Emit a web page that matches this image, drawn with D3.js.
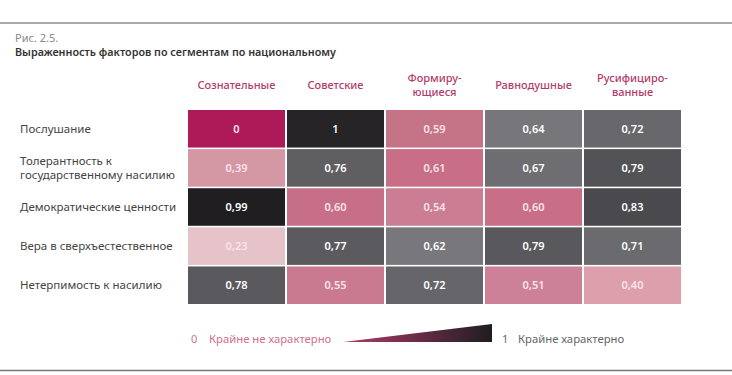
<!DOCTYPE html>
<html>
<head>
<meta charset="utf-8">
<script src="https://cdn.jsdelivr.net/npm/d3@7"></script>
<style>
  body { margin: 0; background: #fff; }
  svg { font-family: "Noto Sans", sans-serif; }
</style>
</head>
<body>
<div id="chart"></div>
<script>
// segments (columns), header lines
const segments = ["Сознательные", "Советские", "Формирующиеся", "Равнодушные", "Русифицированные"];
const segmentLabels = [["Сознательные"], ["Советские"], ["Формиру-", "ющиеся"], ["Равнодушные"], ["Русифициро-", "ванные"]];

// factors (rows)
const factors = ["Послушание", "Толерантность к государственному насилию", "Демократические ценности", "Вера в сверхъестественное", "Нетерпимость к насилию"];
const factorLabels = [["Послушание"], ["Толерантность к", "государственному насилию"], ["Демократические ценности"], ["Вера в сверхъестественное"], ["Нетерпимость к насилию"]];

// values, row by row
const values = [
    [0, 1, 0.59, 0.64, 0.72],
    [0.39, 0.76, 0.61, 0.67, 0.79],
    [0.99, 0.60, 0.54, 0.60, 0.83],
    [0.23, 0.77, 0.62, 0.79, 0.71],
    [0.78, 0.55, 0.72, 0.51, 0.40]
];

// fill colours as printed in the figure
const cellColors = [
    ["#ad1a57", "#262426", "#c57488", "#77767a", "#68676b"],
    ["#d497a4", "#5f5e61", "#c86e86", "#6e6d71", "#535256"],
    ["#201e21", "#c76f88", "#cb7d93", "#c86f87", "#4a494d"],
    ["#e6c2c9", "#5b5a5e", "#78777b", "#59585c", "#6b6a6e"],
    ["#5a595d", "#c97a91", "#666569", "#cd8198", "#dd9fab"]
];

const legendLabels = ["Крайне не характерно", "Крайне характерно"];

let width = 732, height = 375;
let svg = d3.select("#chart").append("svg")
    .attr("width", width)
    .attr("height", height);

let pink = "#b23b6b";

// frame lines
svg.append("line").attr("x1", 0).attr("x2", width).attr("y1", 23).attr("y2", 23)
    .attr("stroke", "#555").attr("stroke-width", 1.2);
svg.append("line").attr("x1", 0).attr("x2", width).attr("y1", 370.5).attr("y2", 370.5)
    .attr("stroke", "#777").attr("stroke-width", 1.5);

// titles
svg.append("text").attr("x", 15).attr("y", 42)
    .style("font-size", "11px").style("fill", "#888").text("Рис. 2.5.");
svg.append("text").attr("x", 15).attr("y", 56)
    .style("font-size", "10.8px").style("font-weight", 600).style("fill", "#333")
    .text("Выраженность факторов по сегментам по национальному");

// scales
let x = d3.scaleBand().domain(segments).range([188, 681]).paddingInner(0.02);
let y = d3.scaleBand().domain(factors).range([110, 304]).paddingInner(0.04);

let cells = [];
values.forEach((row, i) => row.forEach((v, j) => cells.push({
    factor: factors[i], segment: segments[j], value: v, color: cellColors[i][j]
})));

svg.selectAll("rect.cell").data(cells).enter().append("rect")
    .attr("class", "cell")
    .attr("x", d => x(d.segment))
    .attr("y", d => y(d.factor))
    .attr("width", x.bandwidth())
    .attr("height", y.bandwidth())
    .attr("fill", d => d.color);

let fmt = v => (v === 0 || v === 1) ? String(v) : v.toFixed(2).replace(".", ",");

svg.selectAll("text.val").data(cells).enter().append("text")
    .attr("class", "val")
    .attr("x", d => x(d.segment) + x.bandwidth() / 2)
    .attr("y", d => y(d.factor) + y.bandwidth() / 2 + 4)
    .attr("text-anchor", "middle")
    .style("font-size", "11px")
    .style("font-weight", 600)
    .style("fill", d => d3.hsl(d.color).s > 0.2 ? "#fbe3ea" : "#fff")
    .text(d => fmt(d.value));

// column headers
segments.forEach((s, j) => {
    let lines = segmentLabels[j];
    let cx = x(s) + x.bandwidth() / 2;
    lines.forEach((l, k) => {
        svg.append("text")
            .attr("x", cx)
            .attr("y", 89 - (lines.length - 1) * 7 + k * 14)
            .attr("text-anchor", "middle")
            .style("font-size", "11px")
            .style("font-weight", 500)
            .style("fill", pink)
            .text(l);
    });
});

// row labels
factors.forEach((f, i) => {
    let lines = factorLabels[i];
    let cy = y(f) + y.bandwidth() / 2;
    lines.forEach((l, k) => {
        svg.append("text")
            .attr("x", 20)
            .attr("y", cy + 4 - (lines.length - 1) * 7 + k * 14)
            .style("font-size", "11.5px")
            .style("fill", "#444")
            .text(l);
    });
});

// legend
let grad = svg.append("defs").append("linearGradient").attr("id", "lg");
grad.append("stop").attr("offset", "0%").attr("stop-color", pink);
grad.append("stop").attr("offset", "100%").attr("stop-color", "#1e1d20");

let lx = d3.scaleLinear().domain([0, 1]).range([343, 492]);
svg.append("path")
    .attr("d", `M${lx(0)},342 L${lx(1)},324 L${lx(1)},342 Z`)
    .attr("fill", "url(#lg)");

svg.append("text").attr("x", 191).attr("y", 343)
    .style("font-size", "11px").style("fill", "#d0708f").text("0");
svg.append("text").attr("x", 209).attr("y", 343)
    .style("font-size", "11.3px").style("fill", "#d0708f").text(legendLabels[0]);
svg.append("text").attr("x", 502).attr("y", 343)
    .style("font-size", "11px").style("fill", "#666").text("1");
svg.append("text").attr("x", 518).attr("y", 343)
    .style("font-size", "11.3px").style("fill", "#666").text(legendLabels[1]);
</script>
</body>
</html>
